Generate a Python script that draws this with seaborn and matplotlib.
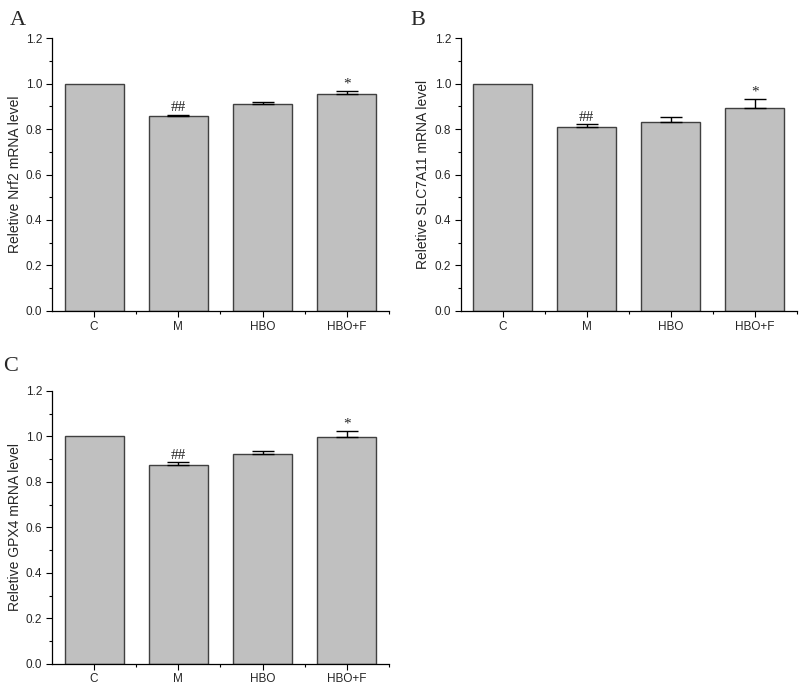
import numpy as np
import pandas as pd
import matplotlib
matplotlib.use('Agg')
import matplotlib.pyplot as plt
import seaborn as sns
from matplotlib.ticker import MultipleLocator, FormatStrFormatter

# -----------------------------
# Data
# -----------------------------

groups = ['C', 'M', 'HBO', 'HBO+F']

nrf2_mean = [1.0, 0.855, 0.909, 0.952]
nrf2_err = [0.0, 0.008, 0.009, 0.017]

slc_mean = [1.0, 0.807, 0.831, 0.893]
slc_err = [0.0, 0.013, 0.023, 0.038]

gpx4_mean = [1.0, 0.873, 0.922, 0.996]
gpx4_err = [0.0, 0.014, 0.013, 0.029]

marks = ['', '##', '', '*']

# the original figure spells it "Reletive"
panels = [
    ('A', 'Reletive Nrf2 mRNA level', nrf2_mean, nrf2_err),
    ('B', 'Reletive SLC7A11 mRNA level', slc_mean, slc_err),
    ('C', 'Reletive GPX4 mRNA level', gpx4_mean, gpx4_err),
]

# -----------------------------
# Style
# -----------------------------

sns.set_style('ticks')
plt.rcParams['font.family'] = ['Liberation Sans', 'DejaVu Sans']

fig = plt.figure(figsize=(8, 6.85), dpi=100)

positions = [
    [0.065, 0.546, 0.421, 0.3985],
    [0.576, 0.546, 0.420, 0.3985],
    [0.065, 0.031, 0.421, 0.3985],
]
letter_pos = [(0.012, 0.97), (0.513, 0.97), (0.004, 0.465)]

for (letter, ylabel, mean, err), pos, lpos in zip(panels, positions, letter_pos):
    ax = fig.add_axes(pos)
    df = pd.DataFrame({'group': groups, 'value': mean})

    sns.barplot(data=df, x='group', y='value', color='#c0c0c0',
                saturation=1, edgecolor='#404040', linewidth=1,
                width=0.7, ax=ax)

    # one-sided error bars (upper only)
    x = np.arange(len(groups))
    mean_a = np.array(mean)
    err_a = np.array(err)
    has_err = err_a > 0
    ax.errorbar(x[has_err], mean_a[has_err],
                yerr=[np.zeros(has_err.sum()), err_a[has_err]],
                fmt='none', ecolor='black', elinewidth=1,
                capsize=8, capthick=1)

    for i, m in enumerate(marks):
        if m:
            ax.text(i, mean_a[i] + err_a[i] + 0.001, m, ha='center',
                    va='bottom', fontsize=11, family='Liberation Serif')

    ax.set_xlim(-0.5, 3.5)
    ax.set_ylim(0, 1.2)
    ax.yaxis.set_major_locator(MultipleLocator(0.2))
    ax.yaxis.set_minor_locator(MultipleLocator(0.1))
    ax.yaxis.set_major_formatter(FormatStrFormatter('%.1f'))
    ax.set_xticks([0.5, 1.5, 2.5, 3.5], minor=True)
    ax.tick_params(which='major', direction='out', length=4, width=0.8,
                   labelsize=8.5, color='black', pad=3)
    ax.tick_params(which='minor', direction='out', length=2.5, width=0.8,
                   color='black')

    ax.set_xlabel('')
    ax.set_ylabel(ylabel, fontsize=10, labelpad=3)
    sns.despine(ax=ax)
    for s in ['left', 'bottom']:
        ax.spines[s].set_linewidth(0.9)
        ax.spines[s].set_color('black')

    fig.text(lpos[0], lpos[1], letter, fontsize=16,
             family='Liberation Serif', ha='left', va='center')

fig.savefig('out.png', dpi=100)
